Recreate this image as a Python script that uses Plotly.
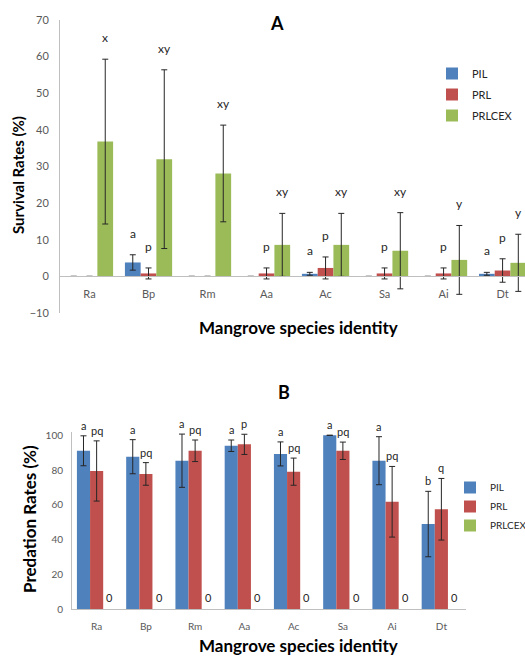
import plotly.graph_objects as go

W, H = 525, 656

species = ["Ra", "Bp", "Rm", "Aa", "Ac", "Sa", "Ai", "Dt"]
series = ["PIL", "PRL", "PRLCEX"]
colors = ["#4F81BD", "#C0504D", "#9BBB59"]

# Panel A: survival rates (%)
surv_pil = [0, 3.8, 0, 0, 0.7, 0, 0, 0.7]
surv_pil_err = [None, 2.1, None, None, 0.4, None, None, 0.4]
surv_prl = [0, 0.8, 0, 0.8, 2.3, 0.8, 0.8, 1.6]
surv_prl_err = [None, 1.5, None, 1.5, 3.0, 1.5, 1.5, 3.2]
surv_cex = [36.8, 32.0, 28.1, 8.6, 8.6, 7.0, 4.5, 3.7]
surv_cex_err = [22.5, 24.4, 13.2, 8.6, 8.6, 10.4, 9.4, 7.8]
surv_pil_let = ["", "a", "", "", "a", "", "", "a"]
surv_prl_let = ["", "p", "", "p", "p", "p", "p", "p"]
surv_cex_let = ["x", "xy", "xy", "xy", "xy", "xy", "y", "y"]

# Panel B: predation rates (%)
pred_pil = [91.1, 87.7, 85.4, 94.0, 89.3, 100.0, 85.4, 49.0]
pred_pil_err = [8.6, 9.8, 15.3, 3.3, 6.9, 0.0, 13.8, 18.8]
pred_prl = [79.5, 77.8, 91.1, 94.8, 79.1, 91.1, 61.8, 57.5]
pred_prl_err = [17.3, 6.5, 6.2, 5.8, 7.8, 5.0, 20.3, 17.7]
pred_cex = [0, 0, 0, 0, 0, 0, 0, 0]
pred_pil_let = ["a", "a", "a", "a", "a", "a", "a", "b"]
pred_prl_let = ["pq", "pq", "pq", "p", "pq", "pq", "pq", "q"]

FONT = "Lato"
TICKC = "#595959"
LINEC = "#BFBFBF"
TXTC = "#262626"


def px(x):
    return x / W


def py(y):
    return 1 - y / H


fig = go.Figure()

A_vals = [surv_pil, surv_prl, surv_cex]
A_errs = [surv_pil_err, surv_prl_err, surv_cex_err]
A_lets = [surv_pil_let, surv_prl_let, surv_cex_let]
for k in range(3):
    fig.add_trace(go.Bar(
        x=species, y=A_vals[k], name=series[k],
        marker=dict(color=colors[k], line=dict(width=0)),
        error_y=dict(type="data", array=A_errs[k], visible=True,
                     color=TXTC, thickness=1, width=3),
        xaxis="x", yaxis="y", legend="legend", legendgroup="A%d" % k,
    ))

B_vals = [pred_pil, pred_prl, pred_cex]
B_errs = [pred_pil_err, pred_prl_err, None]
for k in range(3):
    fig.add_trace(go.Bar(
        x=species, y=B_vals[k], name=series[k],
        marker=dict(color=colors[k], line=dict(width=0)),
        error_y=(dict(type="data", array=B_errs[k], visible=True,
                      color=TXTC, thickness=1, width=3)
                 if B_errs[k] is not None else dict(visible=False)),
        xaxis="x2", yaxis="y2", legend="legend2", legendgroup="B%d" % k,
    ))

off = [-0.2667, 0.0, 0.2667]
ann = []
# letters panel A
for k in range(3):
    for i, s in enumerate(species):
        lab = A_lets[k][i]
        if not lab:
            continue
        e = A_errs[k][i] or 0
        ann.append(dict(x=i + off[k], y=A_vals[k][i] + e, xref="x", yref="y",
                        text=lab, showarrow=False, xanchor="center", yanchor="bottom", yshift=12,
                        font=dict(family=FONT, size=12, color=TXTC)))
# letters panel B
B_lets = [pred_pil_let, pred_prl_let]
for k in range(2):
    for i, s in enumerate(species):
        lab = B_lets[k][i]
        ann.append(dict(x=i + off[k], y=B_vals[k][i] + B_errs[k][i], xref="x2", yref="y2",
                        text=lab, showarrow=False, xanchor="center", yanchor="bottom", yshift=2,
                        font=dict(family=FONT, size=11, color=TXTC)))
for i, s in enumerate(species):
    ann.append(dict(x=i + off[2], y=pred_cex[i], xref="x2", yref="y2",
                    text=str(pred_cex[i]), showarrow=False, xanchor="center", yanchor="bottom",
                    yshift=3, font=dict(family=FONT, size=11, color=TXTC)))

# titles
def title(x, y, text, size, angle=0):
    return dict(x=px(x), y=py(y), xref="paper", yref="paper", text=text,
                showarrow=False, textangle=angle, xanchor="center", yanchor="middle",
                font=dict(family=FONT, size=size, color="black"))


ann += [
    title(277, 23, "<b>A</b>", 18),
    title(284, 392, "<b>B</b>", 18),
    title(18, 175, "<b>Survival Rates (%)</b>", 15, -90),
    title(29, 519, "<b>Predation Rates (%)</b>", 17, -90),
    title(298, 327, "<b>Mangrove species identity</b>", 17),
    title(298, 645, "<b>Mangrove species identity</b>", 17),
]

yA0, yA1 = py(313), py(20)
zeroA = yA0 + (yA1 - yA0) * 10 / 80
yB0, yB1 = py(609.3), py(609.3 - 1.74 * 102)

fig.update_layout(
    width=W, height=H,
    margin=dict(l=0, r=0, t=0, b=0, autoexpand=False),
    paper_bgcolor="white", plot_bgcolor="white",
    barmode="group", bargap=0.2, bargroupgap=0,
    font=dict(family=FONT, color=TICKC),
    annotations=ann,
    xaxis=dict(domain=[px(60), 1.0], range=[-0.5, 7.38], anchor="free", position=zeroA,
               showline=True, linecolor=LINEC, linewidth=1.3, ticks="", showgrid=False,
               zeroline=False, tickfont=dict(family=FONT, size=11, color=TICKC),
               ticklabelstandoff=7),
    yaxis=dict(domain=[yA0, yA1], range=[-10, 70], dtick=10, anchor="x",
               showline=True, linecolor=LINEC, linewidth=1, showgrid=False,
               zeroline=False, ticks="", tickfont=dict(family=FONT, size=11, color=TICKC),
               ticklabelstandoff=8),
    xaxis2=dict(domain=[px(72), px(466)], range=[-0.5, 7.5], anchor="y2",
                showline=True, linecolor=LINEC, linewidth=1.3, ticks="", showgrid=False,
                zeroline=False, tickfont=dict(family=FONT, size=10, color=TICKC),
                ticklabelstandoff=8),
    yaxis2=dict(domain=[yB0, yB1], range=[0, 102], tickvals=[0, 20, 40, 60, 80, 100],
                anchor="x2", showline=True, linecolor=LINEC, linewidth=1, showgrid=False,
                zeroline=False, ticks="", tickfont=dict(family=FONT, size=10, color=TICKC),
                ticklabelstandoff=6),
    legend=dict(x=px(432), y=py(59), xanchor="left", yanchor="top",
                font=dict(family=FONT, size=11, color=TXTC),
                tracegroupgap=2, bgcolor="rgba(0,0,0,0)"),
    legend2=dict(x=px(450), y=py(473), xanchor="left", yanchor="top",
                 font=dict(family=FONT, size=10, color=TXTC),
                 tracegroupgap=0, bgcolor="rgba(0,0,0,0)"),
    showlegend=True,
)

fig.write_html("out.html")
